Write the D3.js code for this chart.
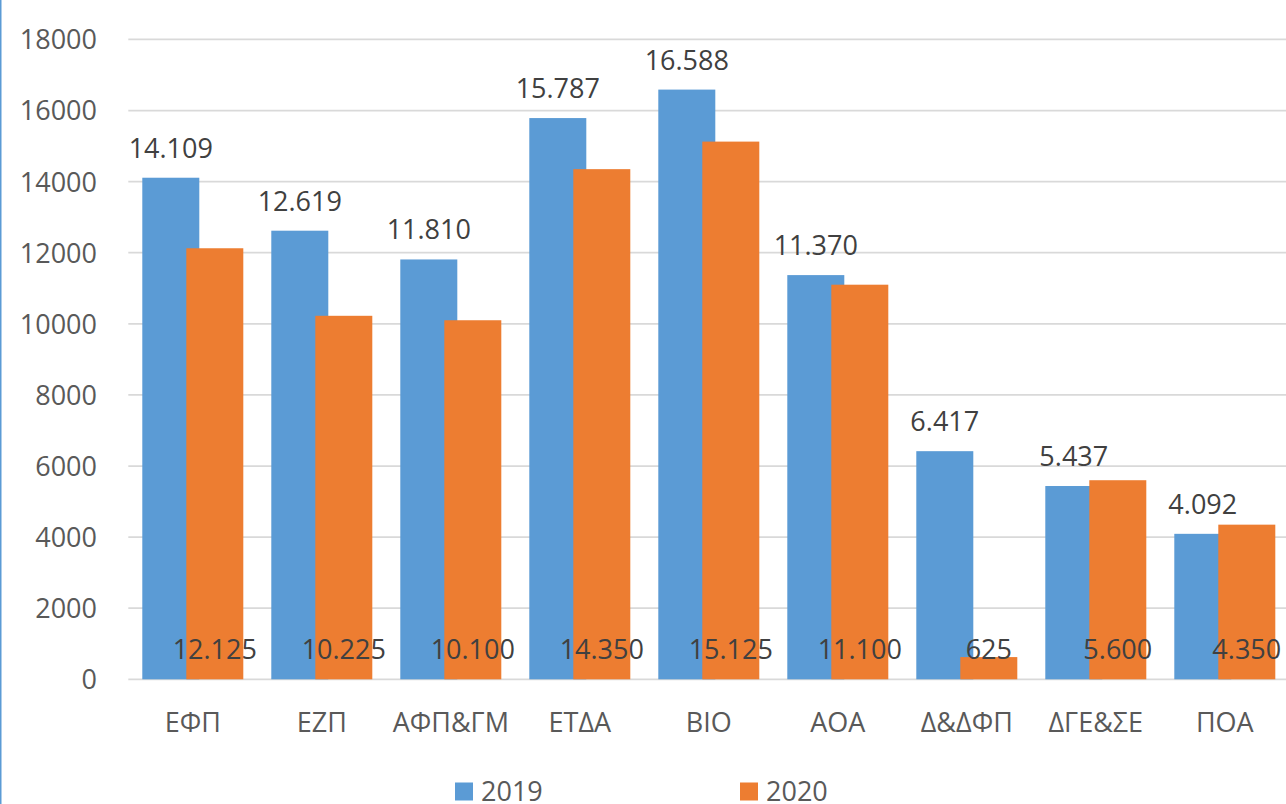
<!DOCTYPE html>
<html>
<head>
<meta charset="utf-8">
<script src="https://cdn.jsdelivr.net/npm/d3@7"></script>
<style>
  html, body { margin: 0; padding: 0; background: #fff; }
  svg { display: block; font-family: "Open Sans", "Noto Sans", sans-serif; }
</style>
</head>
<body>
<svg id="chart" width="1286" height="804"></svg>
<script>
const categories = ["ΕΦΠ", "ΕΖΠ", "ΑΦΠ&ΓΜ", "ΕΤΔΑ", "ΒΙΟ", "ΑΟΑ", "Δ&ΔΦΠ", "ΔΓΕ&ΣΕ", "ΠΟΑ"];
const seriesNames = ["2019", "2020"];
const values2019 = [14109, 12619, 11810, 15787, 16588, 11370, 6417, 5437, 4092];
const values2020 = [12125, 10225, 10100, 14350, 15125, 11100, 625, 5600, 4350];
const yTicks = [0, 2000, 4000, 6000, 8000, 10000, 12000, 14000, 16000, 18000];
const colors = ["#5B9BD5", "#ED7D31"];

const width = 1286, height = 804;
const plot = { left: 128.3, right: 1289.3, top: 39.4, bottom: 679.3 };
const barW = 57, overlap = 13;

const greek = d3.formatLocale({ decimal: ",", thousands: ".", grouping: [3], currency: ["", "€"] });
const fmt = greek.format(",d");

const svg = d3.select("#chart");

const x = d3.scaleBand().domain(categories).range([plot.left, plot.right]).padding(0);
const y = d3.scaleLinear().domain([0, 18000]).range([plot.bottom, plot.top]);
// offset of each series' bar from the category centre (bars overlap a little)
const groupW = barW * 2 - overlap;
const offset = d3.scaleOrdinal().domain(seriesNames).range([-groupW / 2, -groupW / 2 + barW - overlap]);

// left border
svg.append("line")
  .attr("x1", 0.75).attr("x2", 0.75).attr("y1", 0).attr("y2", height)
  .attr("stroke", "#5B9BD5").attr("stroke-width", 1.5);

// gridlines
svg.append("g").selectAll("line").data(yTicks).enter().append("line")
  .attr("x1", plot.left).attr("x2", width)
  .attr("y1", d => y(d)).attr("y2", d => y(d))
  .attr("stroke", "#d9d9d9").attr("stroke-width", 1.75);

// y axis labels
const yAxis = d3.axisLeft(y).tickValues(yTicks).tickSize(0).tickPadding(0).tickFormat(d3.format("d"));
svg.append("g")
  .attr("transform", "translate(97,0)")
  .call(yAxis)
  .call(g => g.select(".domain").remove())
  .call(g => g.selectAll("text")
    .attr("x", 0).attr("dy", "0.35em")
    .attr("fill", "#595959").style("font-size", "27px").style("font-family", "'Open Sans', sans-serif"));

// x axis labels
const xAxis = d3.axisBottom(x).tickSize(0).tickPadding(0);
svg.append("g")
  .attr("transform", "translate(0," + plot.bottom + ")")
  .call(xAxis)
  .call(g => g.select(".domain").remove())
  .call(g => g.selectAll("text")
    .attr("y", 53).attr("dy", 0)
    .attr("fill", "#595959").style("font-size", "27px").style("font-family", "'Open Sans', sans-serif"));

const series = [values2019, values2020].map((vals, s) =>
  vals.map((v, i) => ({ cat: categories[i], v: v, s: seriesNames[s] })));

series.forEach((data, s) => {
  svg.append("g")
    .attr("fill", colors[s])
    .selectAll("rect").data(data).enter().append("rect")
    .attr("x", d => x(d.cat) + x.bandwidth() / 2 + offset(d.s))
    .attr("y", d => y(d.v))
    .attr("width", barW)
    .attr("height", d => y(0) - y(d.v));
});

// data labels: 2019 above the bar, 2020 at the inside base
svg.append("g").selectAll("text").data(series[0]).enter().append("text")
  .attr("x", d => x(d.cat) + x.bandwidth() / 2 + offset(d.s) + barW / 2)
  .attr("y", d => y(d.v) - 20)
  .attr("text-anchor", "middle")
  .attr("fill", "#404040").style("font-size", "27px")
  .text(d => fmt(d.v));

svg.append("g").selectAll("text").data(series[1]).enter().append("text")
  .attr("x", d => x(d.cat) + x.bandwidth() / 2 + offset(d.s) + barW / 2)
  .attr("y", y(0) - 20)
  .attr("text-anchor", "middle")
  .attr("fill", "#404040").style("font-size", "27px")
  .text(d => fmt(d.v));

// legend
const legendX = [455, 740];
const legend = svg.append("g").selectAll("g").data(seriesNames).enter().append("g")
  .attr("transform", (d, i) => "translate(" + legendX[i] + ",782.5)");
legend.append("rect").attr("width", 18).attr("height", 18).attr("fill", (d, i) => colors[i]);
legend.append("text").attr("x", 26).attr("y", 18)
  .attr("fill", "#595959").style("font-size", "27px")
  .text(d => d);
</script>
</body>
</html>
